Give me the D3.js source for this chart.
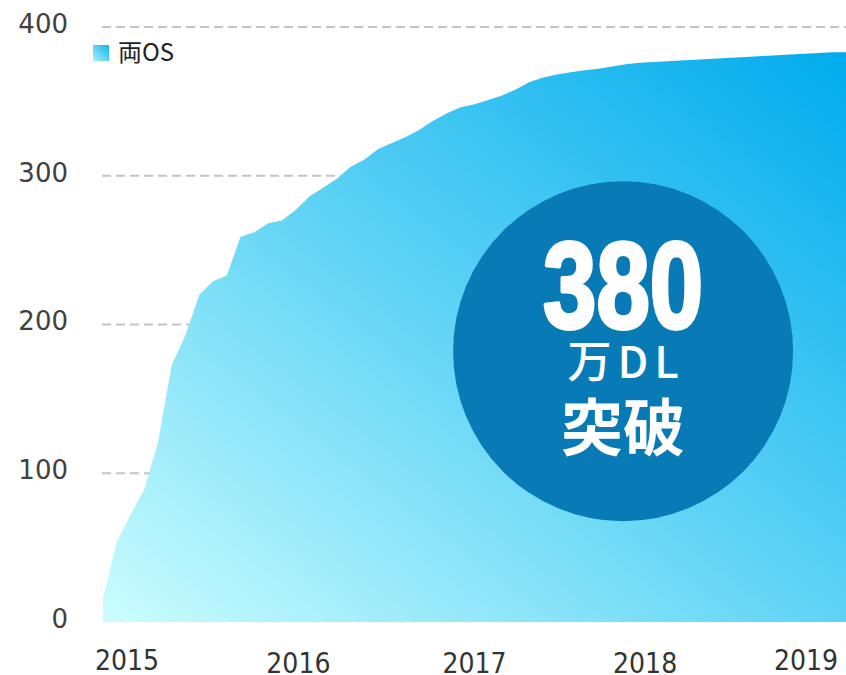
<!DOCTYPE html>
<html lang="ja">
<head>
    <meta charset="UTF-8">
    <title>両OS ダウンロード数</title>
    <script src="https://d3js.org/d3.v7.min.js"></script>
    <style>
        body { margin: 0; background: #fff; }
    </style>
</head>
<body>
    <script>
        // cumulative downloads (万DL), one point per month
        var downloads = [16, 54, 72, 89, 121, 173, 193, 220, 229, 233,
                         259, 262, 268, 270, 277, 286, 292, 298, 306, 311,
                         318, 322, 326, 331, 337, 342, 346, 348, 351, 354,
                         358, 363, 366, 368, 369.5, 371, 372, 373.5, 375, 376,
                         376.5, 377, 377.5, 378, 378.5, 379, 379.5, 380, 380.5, 381,
                         381.5, 382, 382.5, 383, 383];
        var yearLabels = ['2015', '2016', '2017', '2018', '2019'];
        var yearPos = [1.75, 14.2, 27.0, 39.4, 51.1]; // in month index
        var yearShift = [-3, 0, 0, 0, -3];
        var yTicks = [0, 100, 200, 300, 400];
        var seriesName = '両OS';

        var width = 846;
        var height = 675;

        var x = d3.scaleLinear()
                  .domain([0, downloads.length - 1])
                  .range([103, 846]);

        var y = d3.scaleLinear()
                  .domain([0, 400])
                  .range([622, 27]);

        var svg = d3.select('body')
                    .append('svg')
                    .attr('width', width)
                    .attr('height', height);

        var defs = svg.append('defs');
        var grad = defs.append('linearGradient')
                       .attr('id', 'areaGrad')
                       .attr('x1', 0).attr('y1', 1)
                       .attr('x2', 1).attr('y2', 0);
        grad.append('stop').attr('offset', '0%').attr('stop-color', '#ccfdfe');
        grad.append('stop').attr('offset', '50%').attr('stop-color', '#5fd3f5');
        grad.append('stop').attr('offset', '100%').attr('stop-color', '#00abed');

        // grid lines
        svg.append('g')
           .selectAll('line')
           .data(yTicks)
           .enter()
           .append('line')
           .attr('x1', 102)
           .attr('x2', 846)
           .attr('y1', function(d) { return y(d); })
           .attr('y2', function(d) { return y(d); })
           .attr('stroke', function(d) { return d === 0 ? '#eeeeee' : '#c4c4c4'; })
           .attr('stroke-width', function(d) { return d === 0 ? 1 : 2; })
           .attr('stroke-dasharray', '9,5');

        // y axis labels
        var yAxis = d3.axisLeft(y)
                      .tickValues(yTicks)
                      .tickSize(0)
                      .tickPadding(0);

        var gy = svg.append('g')
                    .attr('transform', 'translate(68, -3)')
                    .call(yAxis);
        gy.select('.domain').remove();
        gy.selectAll('text')
          .attr('font-family', 'DejaVu Sans, Verdana, sans-serif')
          .attr('font-size', 26)
          .attr('fill', '#404040');

        // area
        var area = d3.area()
                     .x(function(d, i) { return x(i); })
                     .y0(y(0))
                     .y1(function(d) { return y(d); });

        svg.append('path')
           .datum(downloads)
           .attr('d', area)
           .attr('fill', 'url(#areaGrad)');

        // x labels
        svg.append('g')
           .selectAll('text')
           .data(yearLabels)
           .enter()
           .append('text')
           .attr('x', function(d, i) { return x(yearPos[i]); })
           .attr('y', function(d, i) { return 673 + yearShift[i]; })
           .attr('text-anchor', 'middle')
           .attr('font-family', 'DejaVu Sans Condensed, sans-serif')
           .attr('font-size', 28)
           .attr('fill', '#333')
           .text(function(d) { return d; });

        // legend
        var legendGrad = defs.append('linearGradient')
                             .attr('id', 'legendGrad')
                             .attr('x1', 0).attr('y1', 1)
                             .attr('x2', 1).attr('y2', 0);
        legendGrad.append('stop').attr('offset', '0%').attr('stop-color', '#aef0fb');
        legendGrad.append('stop').attr('offset', '100%').attr('stop-color', '#0db5ef');

        var legend = svg.append('g').attr('transform', 'translate(93, 45)');
        legend.append('rect')
              .attr('width', 16)
              .attr('height', 16)
              .attr('fill', 'url(#legendGrad)');
        legend.append('text')
              .attr('x', 25)
              .attr('y', 16)
              .attr('font-family', 'Noto Sans CJK JP, sans-serif')
              .attr('font-size', 24)
              .attr('fill', '#222')
              .text(seriesName);

        // badge
        var badge = svg.append('g')
                       .attr('transform', 'translate(' + x(37.8) + ',' + y(182) + ')');
        badge.append('circle')
             .attr('r', 170)
             .attr('fill', '#087bb7');
        badge.append('text')
             .attr('y', -23)
             .attr('text-anchor', 'middle')
             .attr('textLength', 160)
             .attr('lengthAdjust', 'spacingAndGlyphs')
             .attr('font-family', 'Liberation Sans Narrow, sans-serif')
             .attr('font-weight', 'bold')
             .attr('font-size', 122)
             .attr('fill', '#fff')
             .attr('stroke', '#fff')
             .attr('stroke-width', 4)
             .attr('stroke-linejoin', 'round')
             .text('380');
        badge.append('text')
             .attr('x', 3)
             .attr('y', 27)
             .attr('text-anchor', 'middle')
             .attr('font-family', 'Noto Sans CJK JP, sans-serif')
             .attr('font-weight', 500)
             .attr('font-size', 44)
             .attr('letter-spacing', 6)
             .attr('fill', '#fff')
             .text('万DL');
        badge.append('text')
             .attr('y', 100)
             .attr('text-anchor', 'middle')
             .attr('font-family', 'Noto Sans CJK JP, sans-serif')
             .attr('font-weight', 'bold')
             .attr('font-size', 62)
             .attr('fill', '#fff')
             .text('突破');
    </script>
</body>
</html>
